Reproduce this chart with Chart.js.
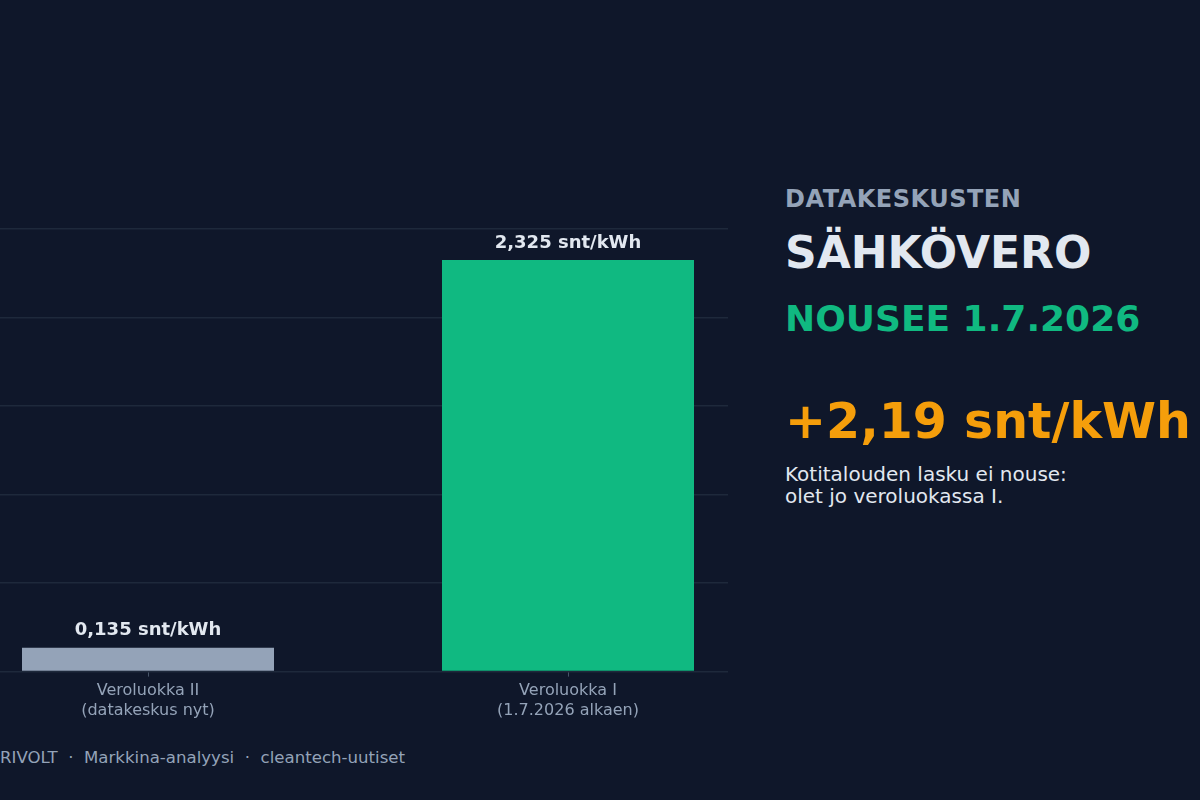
<!DOCTYPE html>
<html>
<head>
<meta charset="utf-8">
<script src="https://cdn.jsdelivr.net/npm/chart.js@4"></script>
<style>
  html, body { margin: 0; padding: 0; background: #0f172a; }
  body { width: 1200px; height: 800px; position: relative; overflow: hidden; font-family: "DejaVu Sans", sans-serif; }
  #chartBox { position: absolute; left: -62px; top: 0; width: 840px; height: 725px; }
  #panel { position: absolute; left: 728px; top: 0; width: 472px; height: 800px; background: #0f172a; }
  #panel div { position: absolute; left: 57px; white-space: nowrap; font-weight: bold; }
  .kicker { top: 185px; font-size: 24px; color: #94a3b8; letter-spacing: 0.5px; }
  .title { top: 227px; font-size: 44px; color: #e2e8f0; }
  .sub { top: 298px; font-size: 36px; color: #10b981; }
  .big { top: 393px; font-size: 49px; color: #f59e0b; }
  #panel .note { top: 463px; font-size: 20px; font-weight: normal; color: #e2e8f0; line-height: 22px; }
  #footer { position: absolute; left: 0; top: 748px; font-size: 16.6px; color: #94a3b8; white-space: nowrap; }
</style>
</head>
<body>
<div id="chartBox"><canvas id="taxChart"></canvas></div>
<div id="panel">
  <div class="kicker">DATAKESKUSTEN</div>
  <div class="title">SÄHKÖVERO</div>
  <div class="sub">NOUSEE 1.7.2026</div>
  <div class="big">+2,19 snt/kWh</div>
  <div class="note">Kotitalouden lasku ei nouse:<br>olet jo veroluokassa I.</div>
</div>
<div id="footer">RIVOLT &nbsp;·&nbsp; Markkina-analyysi &nbsp;·&nbsp; cleantech-uutiset</div>
<script>
const categories = [['Veroluokka II', '(datakeskus nyt)'], ['Veroluokka I', '(1.7.2026 alkaen)']];
const taxValues = [0.135, 2.325];
const valueLabels = ['0,135 snt/kWh', '2,325 snt/kWh'];
const barColors = ['#94a3b8', '#10b981'];

const valueLabelPlugin = {
    id: 'valueLabels',
    afterDatasetsDraw(chart) {
        const ctx = chart.ctx;
        const meta = chart.getDatasetMeta(0);
        ctx.save();
        ctx.font = 'bold 18px "DejaVu Sans"';
        ctx.fillStyle = '#e2e8f0';
        ctx.textAlign = 'center';
        ctx.textBaseline = 'middle';
        meta.data.forEach((bar, i) => {
            ctx.fillText(valueLabels[i], bar.x, bar.y - 17);
        });
        ctx.restore();
    }
};

new Chart(document.getElementById('taxChart').getContext('2d'), {
    type: 'bar',
    data: {
        labels: categories,
        datasets: [{
            data: taxValues,
            backgroundColor: barColors,
            borderWidth: 0,
            barPercentage: 0.75,
            categoryPercentage: 0.8
        }]
    },
    options: {
        responsive: true,
        maintainAspectRatio: false,
        animation: false,
        layout: { padding: { top: 229, left: 0, right: 0, bottom: 0 } },
        plugins: { legend: { display: false }, tooltip: { enabled: false } },
        scales: {
            x: {
                grid: { display: true, drawOnChartArea: false, offset: false, color: '#475569', tickLength: 5 },
                border: { display: false },
                ticks: { color: '#94a3b8', font: { family: 'DejaVu Sans', size: 16 }, padding: 5 }
            },
            y: {
                min: 0,
                max: 2.5,
                ticks: { display: false, stepSize: 0.5 },
                grid: { color: '#1e293b', drawTicks: false, lineWidth: 1.5 },
                border: { display: false }
            }
        }
    },
    plugins: [valueLabelPlugin]
});
</script>
</body>
</html>
